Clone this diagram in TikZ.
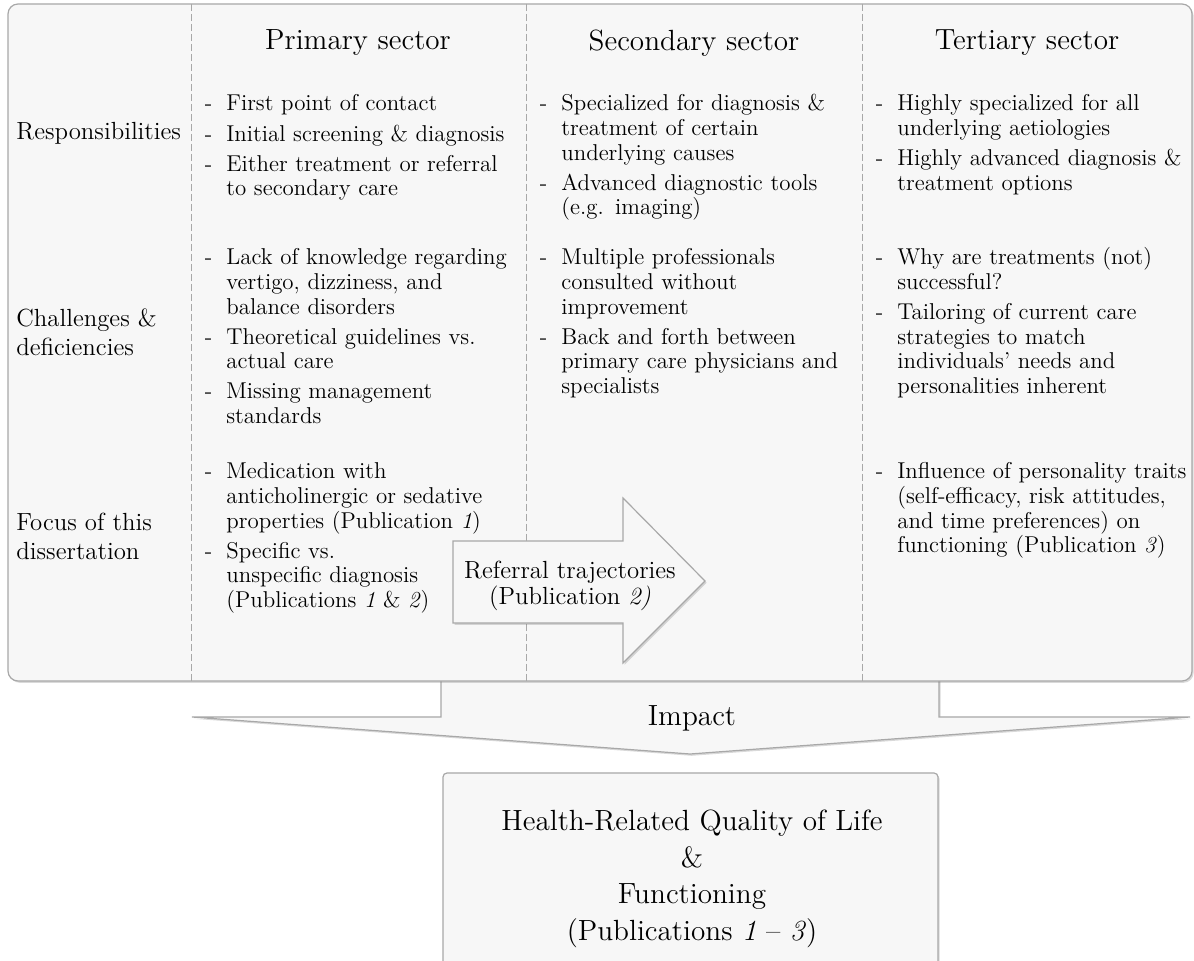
\documentclass[tikz,border=0pt]{standalone}
\usepackage{fontspec}
\usetikzlibrary{shadows}
\definecolor{panel}{HTML}{F7F7F7}
\definecolor{rim}{HTML}{A8A8A8}
\newcommand{\bodyfont}{\fontsize{11.45}{12.3}\selectfont}
\newcommand{\labfont}{\fontsize{12.4}{14.5}\selectfont}
\newcommand{\arrfont}{\fontsize{12.4}{13}\selectfont}
\newcommand{\headfont}{\fontsize{14.6}{18.3}\selectfont}
\newenvironment{dashlist}{\begin{list}{-}{\setlength{\leftmargin}{15pt}\setlength{\labelwidth}{4pt}%
  \setlength{\labelsep}{7pt}\setlength{\itemsep}{2.75pt}\setlength{\parsep}{0pt}%
  \setlength{\topsep}{0pt}\setlength{\partopsep}{0pt}}}{\end{list}}
\begin{document}
\begin{tikzpicture}[x=0.5pt,y=-0.5pt,
  box/.style={fill=panel,draw=rim,line width=0.6pt,drop shadow={opacity=0.3,shadow xshift=0.8pt,shadow yshift=-0.9pt}},
  sep/.style={draw=rim,line width=0.5pt,dash pattern=on 3.5pt off 1.5pt},
  head/.style={font=\headfont,inner sep=0pt},
  rowlab/.style={anchor=west,align=left,font=\labfont,inner sep=0pt},
  cell/.style={anchor=north west,text width=180pt,align=left,font=\bodyfont,inner sep=0pt}]
\useasboundingbox (0,0) rectangle (1194,961);
% impact arrow, its shaft runs under the panel
\draw[box] (441,600) -- (939,600) -- (939,717) -- (1190,717) -- (690,754) -- (192,717) -- (441,717) -- cycle;
\node[head] (impact) at (692,718) {Impact};
% panel with three sectors
\draw[box,rounded corners=5pt] (8,4) rectangle (1192,681);
\foreach \x in {191,526,862}
  \draw[sep] (\x,4) -- (\x,681);
\node[head] (prim) at (358,43) {Primary sector};
\node[head] (sec) at (694,43) {Secondary sector};
\node[head] (tert) at (1027,43) {Tertiary sector};
\node[rowlab] (resp) at (16,133) {Responsibilities};
\node[rowlab] (chal) at (16,332) {Challenges \&\\deficiencies};
\node[rowlab] (focus) at (16,536) {Focus of this\\dissertation};
% responsibilities
\node[cell] (resp1) at (196,86) {\begin{dashlist}
  \item First point of contact
  \item Initial screening \& diagnosis
  \item Either treatment or referral\\to secondary care
\end{dashlist}};
\node[cell] (resp2) at (531,86) {\begin{dashlist}
  \item Specialized for diagnosis \&\\treatment of certain\\underlying causes
  \item Advanced diagnostic tools\\(e.g. imaging)
\end{dashlist}};
\node[cell] (resp3) at (867,86) {\begin{dashlist}
  \item Highly specialized for all\\underlying aetiologies
  \item Highly advanced diagnosis \&\\treatment options
\end{dashlist}};
% challenges
\node[cell] (chal1) at (196,240) {\begin{dashlist}
  \item Lack of knowledge regarding\\vertigo, dizziness, and\\balance disorders
  \item Theoretical guidelines vs.\\actual care
  \item Missing management\\standards
\end{dashlist}};
\node[cell] (chal2) at (531,240) {\begin{dashlist}
  \item Multiple professionals\\consulted without\\improvement
  \item Back and forth between\\primary care physicians and\\specialists
\end{dashlist}};
\node[cell] (chal3) at (867,240) {\begin{dashlist}
  \item Why are treatments (not)\\successful?
  \item Tailoring of current care\\strategies to match\\individuals' needs and\\personalities inherent
\end{dashlist}};
% focus
\node[cell] (focus1) at (196,454) {\begin{dashlist}
  \item Medication with\\anticholinergic or sedative\\properties (Publication \textit{1})
  \item Specific vs.\\unspecific diagnosis\\(Publications \textit{1} \& \textit{2})
\end{dashlist}};
\node[cell] (focus3) at (867,454) {\begin{dashlist}
  \item Influence of personality traits\\(self-efficacy, risk attitudes,\\and time preferences) on\\functioning (Publication \textit{3})
\end{dashlist}};
% referral arrow
\draw[box] (453,541) -- (623,541) -- (623,498) -- (705,581) -- (623,663) -- (623,623) -- (453,623) -- cycle;
\node[align=center,font=\arrfont,inner sep=0pt] (refer) at (570,586) {Referral trajectories\\(Publication \textit{2)}};
% outcome
\draw[box,rounded corners=2pt] (443,773) rectangle (938,1010);
\node[align=center,font=\headfont,inner sep=0pt] (hrql) at (692,879) {Health-Related Quality of Life\\\&\\Functioning\\(Publications \textit{1} -- \textit{3})};
\end{tikzpicture}
\end{document}
